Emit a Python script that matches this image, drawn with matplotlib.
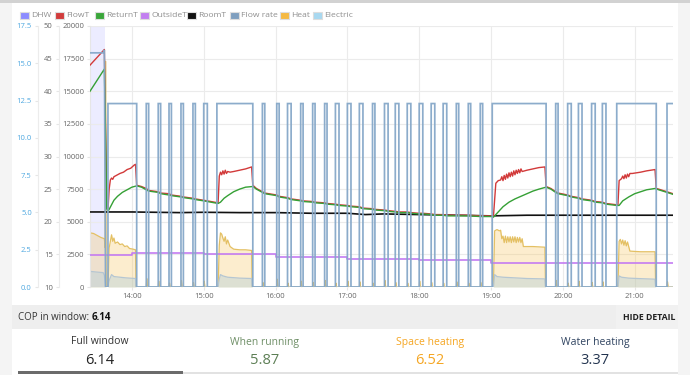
import matplotlib
matplotlib.use("Agg")
import matplotlib.pyplot as plt
from matplotlib.patches import Rectangle
import numpy as np

plt.rcParams['font.family'] = ['Open Sans', 'DejaVu Sans']

# ---- data (times are clock strings) ----
t_start, t_end = "13:25", "21:32"
dhw_span = ("13:25", "13:37:30")

# flow rate (L/min): DHW run then on/off pump pulses
dhw_flow_t = ["13:25", "13:36", "13:37", "13:38"]
dhw_flow_v = [15.7, 15.7, 15.9, 0.0]
flow_on = 12.3
pulse_on = ["13:40", "14:12", "14:22", "14:31", "14:41", "14:51", "15:00", "15:11",
            "15:49", "16:01", "16:10", "16:21", "16:31", "16:41", "16:50", "17:00",
            "17:10", "17:21", "17:31", "17:40", "17:50", "18:00", "18:10", "18:20",
            "18:31", "18:41", "18:51", "19:01", "19:54", "20:04", "20:13", "20:24",
            "20:33", "20:45", "21:27"]
pulse_off = ["14:04", "14:14", "14:24", "14:33", "14:43", "14:53", "15:03", "15:41",
             "15:51", "16:03", "16:13", "16:23", "16:33", "16:43", "16:53", "17:03",
             "17:13", "17:23", "17:34", "17:43", "17:53", "18:03", "18:13", "18:23",
             "18:33", "18:43", "18:53", "19:46", "19:56", "20:07", "20:16", "20:27",
             "20:36", "21:18", "21:34"]
# small heat blip (W) when each short pulse starts, 0 for the long runs
heat_spike = [0, 650, 450, 300, 500, 350, 450, 0,
              350, 600, 300, 450, 350, 500, 300, 450,
              400, 300, 500, 350, 300, 450, 350, 300,
              400, 300, 350, 0, 500, 300, 450, 350,
              400, 0, 400]

# heat output (W)
heat_t = ["13:25", "13:28", "13:31", "13:34", "13:37", "13:37:40", "13:38", "13:38:30",
          "13:40", "13:41", "13:43", "13:44", "13:45", "13:46", "13:48", "13:50", "13:52",
          "13:54", "13:56", "13:58", "14:01", "14:03", "14:03:30",
          "15:12", "15:13", "15:14", "15:15", "15:16", "15:17", "15:18", "15:19", "15:20",
          "15:22", "15:25", "15:30", "15:35", "15:40", "15:40:30",
          "19:02", "19:03", "19:05", "19:07", "19:08", "19:09", "19:10", "19:11", "19:12",
          "19:13", "19:14", "19:15", "19:16", "19:17", "19:18", "19:19", "19:20", "19:21",
          "19:22", "19:23", "19:24", "19:25", "19:26", "19:27", "19:35", "19:45", "19:45:30",
          "20:46", "20:47", "20:48", "20:49", "20:50", "20:51", "20:52", "20:53", "20:54",
          "20:55", "20:56", "21:05", "21:17", "21:17:30", "21:32"]
heat_v = [4150, 4100, 3950, 3800, 3700, 3000, 17300, 0,
          0, 3000, 4000, 3500, 3750, 3350, 3450, 3250, 3300,
          3100, 3150, 2950, 2900, 2850, 0,
          0, 3200, 4150, 4050, 3750, 3500, 3850, 3300, 3600,
          3100, 2900, 2850, 2850, 2800, 0,
          0, 4300, 4400, 4300, 4350, 3700, 3900, 3400, 3900,
          3400, 3850, 3450, 3850, 3400, 3850, 3450, 3850, 3400,
          3800, 3450, 3800, 3400, 3700, 3100, 3100, 3050, 0,
          0, 3500, 3650, 3300, 3600, 3200, 3550, 3150, 3450,
          3100, 2750, 2700, 2700, 0, 0]

# electric input (W)
elec_t = ["13:25", "13:30", "13:36", "13:37", "13:38", "13:40", "13:41", "13:43", "13:45",
          "13:50", "13:55", "14:03", "14:03:30",
          "15:12", "15:13", "15:14", "15:16", "15:20", "15:30", "15:40", "15:40:30",
          "19:02", "19:03", "19:05", "19:10", "19:20", "19:30", "19:45", "19:45:30",
          "20:46", "20:47", "20:49", "20:55", "21:05", "21:17", "21:17:30", "21:32"]
elec_v = [1200, 1150, 1100, 900, 0, 0, 500, 950, 800,
          750, 700, 650, 0,
          0, 600, 950, 850, 750, 680, 650, 0,
          0, 950, 800, 750, 700, 650, 620, 0,
          0, 850, 750, 680, 640, 600, 0, 0]

# return temperature (C)
ret_t = ["13:25", "13:37", "13:38", "13:39", "13:40", "13:41", "13:43", "13:45", "13:48",
         "13:52", "13:56", "14:00", "14:04", "14:08", "14:12", "14:14", "14:22", "14:24",
         "14:31", "14:33", "14:41", "14:43", "14:51", "14:53", "15:00", "15:03", "15:12",
         "15:14", "15:17", "15:20", "15:25", "15:30", "15:35", "15:41", "15:44", "15:49",
         "15:51", "16:01", "16:03", "16:10", "16:13", "16:21", "16:23", "16:31", "16:33",
         "16:41", "16:43", "16:50", "16:53", "17:00", "17:03", "17:10", "17:13", "17:21",
         "17:23", "17:31", "17:34", "17:40", "17:43", "17:50", "17:53", "18:00", "18:03",
         "18:10", "18:13", "18:20", "18:23", "18:31", "18:41", "18:51", "19:01", "19:02",
         "19:05", "19:10", "19:15", "19:20", "19:25", "19:30", "19:35", "19:40", "19:46",
         "19:50", "19:54", "19:56", "20:04", "20:07", "20:13", "20:16", "20:24", "20:27",
         "20:33", "20:36", "20:45", "20:47", "20:50", "20:55", "21:00", "21:05", "21:10",
         "21:17", "21:20", "21:27", "21:32"]
ret_v = [40.0, 43.4, 33.0, 22.0, 21.6, 21.9, 22.6, 23.3, 23.9,
         24.5, 24.9, 25.3, 25.5, 25.3, 24.9, 24.7, 24.5, 24.3,
         24.1, 24.0, 23.8, 23.7, 23.5, 23.4, 23.2, 23.1, 22.8,
         23.0, 23.6, 24.0, 24.6, 25.0, 25.3, 25.4, 25.0, 24.5,
         24.3, 24.0, 23.8, 23.6, 23.4, 23.2, 23.1, 23.0, 22.9,
         22.8, 22.7, 22.6, 22.5, 22.4, 22.3, 22.2, 22.0, 21.9,
         21.8, 21.7, 21.6, 21.5, 21.4, 21.4, 21.3, 21.2, 21.2,
         21.1, 21.0, 21.0, 20.9, 20.9, 20.9, 20.8, 20.8, 20.7,
         21.3, 22.3, 23.0, 23.5, 23.9, 24.3, 24.7, 25.0, 25.3,
         25.0, 24.5, 24.3, 24.0, 23.8, 23.6, 23.4, 23.2, 23.0,
         22.9, 22.7, 22.5, 22.5, 23.2, 23.8, 24.3, 24.6, 24.9,
         25.1, 24.9, 24.5, 24.2]

# flow temperature (C)
flw_t = ["13:25", "13:37", "13:38", "13:39", "13:40", "13:41", "13:42", "13:43", "13:44",
         "13:45", "13:48", "13:50", "13:53", "13:56", "13:59", "14:02", "14:03", "14:04",
         "14:08", "14:12", "14:14", "14:22", "14:24", "14:31", "14:33", "14:41", "14:43",
         "14:51", "14:53", "15:00", "15:03", "15:12", "15:13", "15:14", "15:15", "15:16",
         "15:17", "15:18", "15:19", "15:20", "15:22", "15:25", "15:30", "15:35", "15:40",
         "15:41", "15:44", "15:49", "15:51", "16:01", "16:03", "16:10", "16:13", "16:21",
         "16:23", "16:31", "16:33", "16:41", "16:43", "16:50", "16:53", "17:00", "17:03",
         "17:10", "17:13", "17:21", "17:23", "17:31", "17:34", "17:40", "17:43", "17:50",
         "17:53", "18:00", "18:03", "18:10", "18:13", "18:20", "18:23", "18:31", "18:41",
         "18:51", "19:01", "19:02", "19:04", "19:06", "19:08", "19:09", "19:10", "19:11",
         "19:12", "19:13", "19:14", "19:15", "19:16", "19:17", "19:18", "19:19", "19:20",
         "19:21", "19:22", "19:23", "19:24", "19:25", "19:26", "19:30", "19:35", "19:40",
         "19:45", "19:46", "19:50", "19:54", "19:56", "20:04", "20:07", "20:13", "20:16",
         "20:24", "20:27", "20:33", "20:36", "20:45", "20:46", "20:47", "20:49", "20:50",
         "20:51", "20:52", "20:53", "20:54", "20:55", "20:56", "20:58", "21:05", "21:10",
         "21:17", "21:18", "21:20", "21:27", "21:32"]
flw_v = [44.0, 46.4, 34.0, 22.5, 21.8, 25.0, 26.4, 26.7, 26.5,
         26.9, 27.2, 27.4, 27.6, 28.0, 28.2, 28.7, 28.8, 25.6,
         25.4, 25.1, 24.8, 24.6, 24.4, 24.3, 24.1, 23.9, 23.8,
         23.6, 23.5, 23.3, 23.2, 22.9, 27.0, 27.6, 27.2, 27.8,
         27.3, 27.9, 27.4, 27.7, 27.6, 27.7, 27.9, 28.1, 28.4,
         25.6, 25.1, 24.6, 24.4, 24.1, 23.9, 23.7, 23.5, 23.3,
         23.2, 23.1, 23.0, 22.9, 22.8, 22.7, 22.6, 22.5, 22.4,
         22.3, 22.1, 22.0, 21.9, 21.8, 21.7, 21.6, 21.5, 21.5,
         21.4, 21.3, 21.3, 21.2, 21.1, 21.1, 21.0, 21.0, 21.0,
         20.9, 20.9, 20.8, 25.9, 26.3, 26.4, 26.9, 26.3, 27.1,
         26.5, 27.3, 26.7, 27.5, 26.9, 27.6, 27.0, 27.8, 27.2,
         27.9, 27.4, 28.0, 27.5, 28.1, 27.7, 27.9, 28.1, 28.3,
         28.4, 25.4, 25.1, 24.6, 24.4, 24.1, 23.9, 23.7, 23.5,
         23.3, 23.1, 23.0, 22.8, 22.6, 22.6, 26.3, 26.6, 27.0,
         26.6, 27.2, 26.7, 27.3, 26.9, 27.4, 27.4, 27.6, 27.8,
         28.0, 25.1, 25.0, 24.6, 24.3]

# room temperature (C)
room_t = ["13:25", "14:00", "14:40", "15:00", "15:30", "16:00", "16:30", "17:00", "17:15",
          "17:30", "18:00", "18:30", "19:00", "19:30", "20:00", "20:30", "21:00", "21:32"]
room_v = [21.5, 21.5, 21.4, 21.45, 21.4, 21.4, 21.3, 21.3, 21.1,
          21.2, 21.1, 21.0, 20.9, 21.0, 21.0, 21.0, 21.0, 21.0]

# outside temperature (C), hourly steps
out_t = ["13:25", "14:00", "15:00", "16:00", "17:00", "18:00", "19:00", "21:32"]
out_v = [14.9, 15.2, 15.1, 14.6, 14.3, 14.2, 13.7, 13.7]

hour_ticks = [14, 15, 16, 17, 18, 19, 20, 21]

cop_window = "6.14"
cop_labels = ["Full window", "When running", "Space heating", "Water heating"]
cop_values = ["6.14", "5.87", "6.52", "3.37"]


def hrs(s):
    p = [float(v) for v in s.split(":")]
    return p[0] + p[1] / 60 + (p[2] / 3600 if len(p) > 2 else 0)


W, H = 690, 375
def fx(x): return x / W
def fy(y): return 1 - y / H


fig = plt.figure(figsize=(6.9, 3.75), dpi=100)

def box(x0, y0, x1, y1, color):
    fig.add_artist(Rectangle((fx(x0), fy(y1)), (x1 - x0) / W, (y1 - y0) / H,
                             transform=fig.transFigure, color=color, lw=0, zorder=0))

box(0, 0, 12, H, '#f4f4f4')
box(678, 0, W, H, '#f4f4f4')
box(0, 0, W, 3, '#d2d2d2')
box(12, 305, 678, 329, '#eeeeee')
box(616, 305, 678, 329, '#f1f1f1')
box(18, 372, 678, 373.5, '#e2e2e2')
box(18, 371, 183, 374, '#6b6b6b')

# ---- axes ----
ax = fig.add_axes([fx(90), fy(287), (673 - 90) / W, (287 - 26) / H])
ax_t = ax.twinx()
ax_f = ax.twinx()

ax.set_xlim(hrs(t_start), hrs(t_end))
ax.set_ylim(0, 20000)
ax.set_yticks(np.arange(0, 20001, 2500))
ax.set_xticks(hour_ticks)
ax.set_xticklabels([f"{h}:00" for h in hour_ticks])
ax.grid(True, color='#ebebeb', lw=0.8)
ax.set_axisbelow(True)
for s in ['top', 'right', 'bottom']:
    ax.spines[s].set_visible(False)
ax.spines['left'].set_color('#e6e6e6')
ax.tick_params(axis='both', labelsize=5.5, colors='#e6e6e6', labelcolor='#666666',
               length=2.5, pad=1.5)

ax_t.set_ylim(10, 50)
ax_t.set_yticks(np.arange(10, 51, 5))
ax_f.set_ylim(0, 17.5)
ax_f.set_yticks(np.arange(0, 17.6, 2.5))
ax_f.set_yticklabels([f"{v:.1f}" for v in np.arange(0, 17.6, 2.5)])

for a, off, lc in ((ax_t, 22.3, '#666666'), (ax_f, 37.4, '#4fa8e0')):
    a.yaxis.tick_left()
    for s in ['top', 'right', 'bottom']:
        a.spines[s].set_visible(False)
    a.spines['left'].set_visible(True)
    a.spines['left'].set_position(('outward', off))
    a.spines['left'].set_color('#ececec')
    a.tick_params(axis='y', labelsize=5.5, colors='#e6e6e6', labelcolor=lc,
                  length=2.5, pad=2)

# ---- power axis: DHW band, heat, electric ----
ax.axvspan(hrs(dhw_span[0]), hrs(dhw_span[1]), color='#ececff', lw=0, zorder=0.5)

spk_t, spk_v = [], []
for on, h in zip(pulse_on, heat_spike):
    if h > 0:
        t0 = hrs(on)
        spk_t += [t0, t0 + 0.4 / 60, t0 + 1.0 / 60]
        spk_v += [0, h, 0]
ht = np.array([hrs(t) for t in heat_t] + spk_t)
hv = np.array(heat_v + spk_v, dtype=float)
order = np.argsort(ht, kind='stable')
ht, hv = ht[order], hv[order]
ax.fill_between(ht, 0, hv, color='#f7c04a', alpha=0.27, lw=0, zorder=1)
ax.plot(ht, hv, color='#e4c063', lw=0.9, zorder=1.2)

et = [hrs(t) for t in elec_t]
ax.fill_between(et, 0, elec_v, color='#9fc8e0', alpha=0.33, lw=0, zorder=1.5)
ax.plot(et, elec_v, color='#b5c6d2', lw=0.9, zorder=1.6)

# ---- temperature axis ----
ax_t.plot([hrs(t) for t in out_t], out_v, drawstyle='steps-post', color='#c47cf2', lw=1.2)
ax_t.plot([hrs(t) for t in room_t], room_v, color='#111111', lw=1.2)
ax_t.plot([hrs(t) for t in flw_t], flw_v, color='#d23a3a', lw=1.0)
ax_t.plot([hrs(t) for t in ret_t], ret_v, color='#35a035', lw=1.0)

# ---- flow rate axis ----
flt = [hrs(t) for t in dhw_flow_t]
flv = list(dhw_flow_v)
for on, off in zip(pulse_on, pulse_off):
    flt += [hrs(on), hrs(on), hrs(off), hrs(off)]
    flv += [0, flow_on, flow_on, 0]
ax_f.plot(flt, flv, color='#86a8c9', lw=1.25, alpha=0.95, solid_joinstyle='miter')

# ---- legend (top) ----
legend_items = [("DHW", '#8c8cff'), ("FlowT", '#d13c3c'), ("ReturnT", '#3aa63a'),
                ("OutsideT", '#c27ff0'), ("RoomT", '#111111'), ("Flow rate", '#7f9fbf'),
                ("Heat", '#f5b942'), ("Electric", '#a8d8f0')]
legend_x = [20, 55, 95, 140, 187, 230, 280, 313]
for (name, c), x in zip(legend_items, legend_x):
    fig.add_artist(Rectangle((fx(x), fy(19)), 9 / W, 7 / H, transform=fig.transFigure,
                             facecolor=c, edgecolor='#dddddd', lw=0.8))
    fig.text(fx(x + 11), fy(15.5), name, fontsize=6.1, color='#8f8f8f', va='center')

# ---- COP summary ----
t1 = fig.text(fx(18), fy(317), "COP in window: ", fontsize=7, color='#333333', va='center')
fig.canvas.draw()
bb = t1.get_window_extent(fig.canvas.get_renderer())
fig.text(bb.x1 / fig.bbox.width, fy(317), cop_window, fontsize=7, color='#111111',
         fontweight='bold', va='center')
fig.text(fx(675), fy(317), "HIDE DETAIL", fontsize=6.3, color='#222222',
         fontweight='bold', va='center', ha='right')

label_cols = ['#333333', '#6f8f67', '#f5a623', '#2f4360']
value_cols = ['#222222', '#5d7f55', '#f5a623', '#23344f']
col_x = [100, 265, 430, 595]
for lab, val, x, lc, vc in zip(cop_labels, cop_values, col_x, label_cols, value_cols):
    fig.text(fx(x), fy(342), lab, fontsize=7.5, color=lc, ha='center', va='center')
    fig.text(fx(x), fy(360), val, fontsize=10.5, color=vc, ha='center', va='center')

fig.savefig("out.png", dpi=100)
